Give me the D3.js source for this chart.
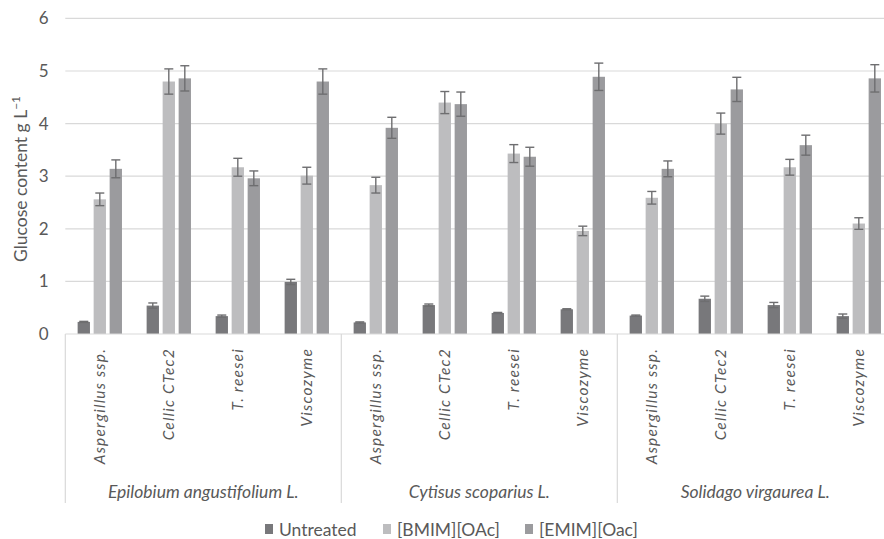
<!DOCTYPE html>
<html>
<head>
<meta charset="utf-8">
<script src="https://cdn.jsdelivr.net/npm/d3@7/dist/d3.min.js"></script>
<style>
  html, body { margin: 0; padding: 0; background: #fff; }
  svg { display: block; font-family: Lato, "Open Sans", sans-serif; }
</style>
</head>
<body>
<svg id="chart" width="884" height="539"></svg>
<script>
// Plant species (outer groups), enzyme preparations (inner categories), pretreatments (series)
const species = ["Epilobium angustifolium L.", "Cytisus scoparius L.", "Solidago virgaurea L."];
const enzymes = ["Aspergillus ssp.", "Cellic CTec2", "T. reesei", "Viscozyme"];
const seriesNames = ["Untreated", "[BMIM][OAc]", "[EMIM][Oac]"];
const seriesColors = ["#78787b", "#bdbdbf", "#9b9b9e"];

// Glucose content (g/L), 12 values per series: species × enzyme
const untreated    = [0.23, 0.54, 0.34, 0.99, 0.22, 0.55, 0.40, 0.47, 0.35, 0.67, 0.55, 0.34];
const untreatedErr = [0.01, 0.05, 0.02, 0.05, 0.01, 0.02, 0.01, 0.01, 0.01, 0.05, 0.05, 0.04];
const bmim         = [2.56, 4.80, 3.17, 3.01, 2.83, 4.40, 3.43, 1.96, 2.59, 4.00, 3.17, 2.10];
const bmimErr      = [0.12, 0.24, 0.17, 0.16, 0.15, 0.21, 0.17, 0.09, 0.12, 0.20, 0.15, 0.11];
const emim         = [3.14, 4.86, 2.96, 4.80, 3.92, 4.37, 3.37, 4.89, 3.14, 4.65, 3.59, 4.86];
const emimErr      = [0.17, 0.24, 0.14, 0.24, 0.20, 0.23, 0.18, 0.26, 0.15, 0.23, 0.19, 0.26];
const yTicks = [0, 1, 2, 3, 4, 5, 6];

const seriesValues = [untreated, bmim, emim];
const seriesErrors = [untreatedErr, bmimErr, emimErr];

const svg = d3.select("#chart");
const textColor = "#595959";
const gridColor = "#d9d9d9";

const plotLeft = 65.3, plotRight = 893.3, plotTop = 18.4, plotBottom = 334;

// Category slots: one per species/enzyme pair
const slots = [];
species.forEach((s, gi) => enzymes.forEach((e, ei) => slots.push({ species: s, enzyme: e, idx: gi * enzymes.length + ei })));

const x0 = d3.scaleBand().domain(slots.map(d => d.idx)).range([plotLeft, plotRight]).padding(0);
const x1 = d3.scaleBand().domain(seriesNames).range([0, x0.bandwidth()]).paddingInner(0.23).paddingOuter(0.77);
const y = d3.scaleLinear().domain([0, 6]).range([plotBottom, plotTop]);

// Horizontal gridlines
svg.append("g")
  .selectAll("line").data(yTicks.filter(t => t > 0)).join("line")
  .attr("x1", plotLeft).attr("x2", plotRight)
  .attr("y1", d => y(d)).attr("y2", d => y(d))
  .attr("stroke", gridColor).attr("stroke-width", 1.2);

// Y axis tick labels
const yAxis = d3.axisLeft(y).tickValues(yTicks).tickSize(0).tickPadding(0).tickFormat(d3.format("d"));
const yg = svg.append("g").attr("transform", `translate(${48.5},0)`).call(yAxis);
yg.select(".domain").remove();
yg.selectAll("text").attr("fill", textColor).attr("font-size", 17).attr("font-family", "Lato, 'Open Sans', sans-serif");

// Y axis title
svg.append("text")
  .attr("transform", `translate(27,${179}) rotate(-90)`)
  .attr("text-anchor", "middle")
  .attr("fill", textColor).attr("font-size", 17.5)
  .html('Glucose content g L<tspan dy="-7" font-size="12">−1</tspan>');

// Bars
const barData = [];
slots.forEach(slot => seriesNames.forEach((name, si) => barData.push({
  idx: slot.idx, name, si, value: seriesValues[si][slot.idx], err: seriesErrors[si][slot.idx]
})));

svg.append("g").selectAll("rect").data(barData).join("rect")
  .attr("x", d => x0(d.idx) + x1(d.name))
  .attr("y", d => y(d.value))
  .attr("width", x1.bandwidth())
  .attr("height", d => y(0) - y(d.value))
  .attr("fill", d => seriesColors[d.si]);

// Error bars
const eg = svg.append("g").attr("stroke", "#6e6e70").attr("stroke-width", 1.4).attr("fill", "none");
const cx = d => x0(d.idx) + x1(d.name) + x1.bandwidth() / 2;
const capHalf = 4.5;
eg.selectAll("line.v").data(barData).join("line").attr("class", "v")
  .attr("x1", cx).attr("x2", cx)
  .attr("y1", d => y(d.value + d.err)).attr("y2", d => y(d.value - d.err));
eg.selectAll("line.t").data(barData).join("line").attr("class", "t")
  .attr("x1", d => cx(d) - capHalf).attr("x2", d => cx(d) + capHalf)
  .attr("y1", d => y(d.value + d.err)).attr("y2", d => y(d.value + d.err));
eg.selectAll("line.b").data(barData).join("line").attr("class", "b")
  .attr("x1", d => cx(d) - capHalf).attr("x2", d => cx(d) + capHalf)
  .attr("y1", d => y(d.value - d.err)).attr("y2", d => y(d.value - d.err));

// Category axis baseline
svg.append("line")
  .attr("x1", plotLeft).attr("x2", plotRight)
  .attr("y1", plotBottom).attr("y2", plotBottom)
  .attr("stroke", gridColor).attr("stroke-width", 1.2);

// Group dividers
const dividerBottom = 503;
const groupEdges = d3.range(species.length + 1).map(i => i === species.length ? plotRight : x0(i * enzymes.length));
svg.append("g").selectAll("line").data(groupEdges).join("line")
  .attr("x1", d => d).attr("x2", d => d)
  .attr("y1", plotBottom).attr("y2", dividerBottom)
  .attr("stroke", gridColor).attr("stroke-width", 1.2);

// Enzyme labels (rotated)
svg.append("g").selectAll("text").data(slots).join("text")
  .attr("transform", d => `translate(${x0(d.idx) + x0.bandwidth() / 2},${348}) rotate(-90)`)
  .attr("text-anchor", "end")
  .attr("dy", "0.35em")
  .attr("font-style", "italic")
  .attr("font-size", 15.5)
  .attr("letter-spacing", 1.2)
  .attr("fill", textColor)
  .text(d => d.enzyme);

// Species labels, centred on each group
svg.append("g").selectAll("text").data(species).join("text")
  .attr("x", (d, i) => (groupEdges[i] + groupEdges[i + 1]) / 2)
  .attr("y", 498)
  .attr("text-anchor", "middle")
  .attr("font-style", "italic")
  .attr("font-size", 17.5)
  .attr("fill", textColor)
  .text(d => d);

// Legend
const legendX = [265, 383, 525];
const lg = svg.append("g").selectAll("g").data(seriesNames).join("g")
  .attr("transform", (d, i) => `translate(${legendX[i]},${530})`);
lg.append("rect").attr("x", 0).attr("y", -6).attr("width", 8).attr("height", 10)
  .attr("fill", (d, i) => seriesColors[i]);
lg.append("text").attr("x", 14).attr("y", 0).attr("dy", "0.35em")
  .attr("font-size", 17.5).attr("fill", textColor).text(d => d);
</script>
</body>
</html>
